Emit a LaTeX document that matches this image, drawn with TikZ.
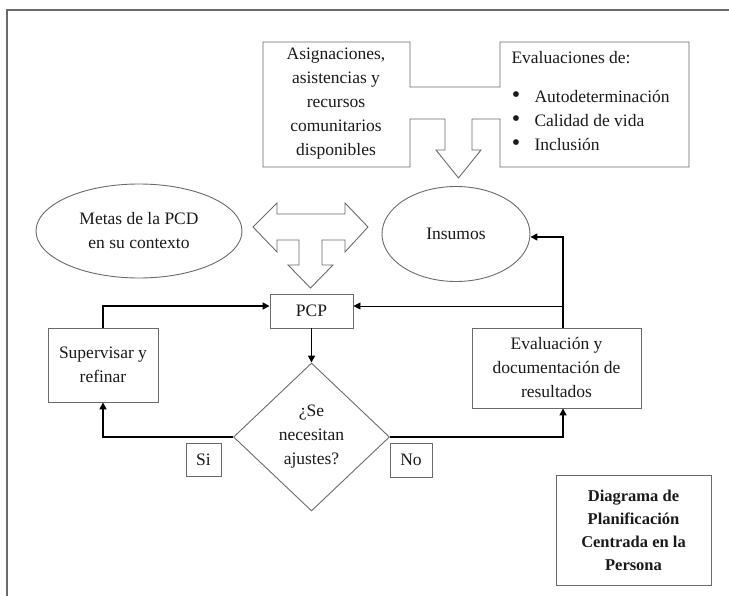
\documentclass[tikz,border=0pt]{standalone}
\usepackage{fontspec}
\setmainfont{Liberation Serif}
\usetikzlibrary{shapes.geometric,arrows.meta,calc}
\definecolor{edge}{HTML}{6A6A6A}
\definecolor{ink}{HTML}{1A1A1A}
\begin{document}
\begin{tikzpicture}[x=1pt,y=-1pt,
  every node/.style={text=ink,font=\fontsize{17.5}{24}\selectfont},
  box/.style={draw=edge,line width=0.9pt,rectangle,align=center,inner sep=0pt},
  oval/.style={draw=edge,line width=0.9pt,ellipse,align=center,inner sep=0pt},
  blockarrow/.style={draw=edge,line width=0.9pt,line join=miter},
  conn/.style={draw=black,line width=1.6pt,-{Triangle[length=7pt,width=7pt]}},
  thinconn/.style={draw=black,line width=0.8pt,-{Triangle[length=7pt,width=7pt]}},
  tag/.style={draw=edge,line width=0.9pt,rectangle,inner sep=0pt},
  bul/.style={font=\fontsize{24}{24}\selectfont}]
\useasboundingbox (0,0) rectangle (729,596);
% outer frame
\draw[edge,line width=1.2pt] (7,596) -- (7,10) -- (729,10);
% combined top boxes with notch and down arrow
\draw[blockarrow] (263,42) -- (410,42) -- (410,87) -- (500,87) -- (500,42) -- (689,42)
  -- (689,167) -- (500,167) -- (500,119) -- (472,119) -- (472,150) -- (481,150)
  -- (458.5,178) -- (436,150) -- (445,150) -- (445,119) -- (410,119) -- (410,167)
  -- (263,167) -- cycle;
\node (asig) at (336,104) [align=center] {Asignaciones,\\asistencias y\\recursos\\comunitarios\\disponibles};
\node (evh) at (508,58) [anchor=west] {Evaluaciones de:};
\node[bul] (b1) at (516,97) {•};
\node[bul] (b2) at (516,121) {•};
\node[bul] (b3) at (516,145) {•};
\node (e1) at (531,97) [anchor=west] {Autodeterminación};
\node (e2) at (531,121) [anchor=west] {Calidad de vida};
\node (e3) at (531,145) [anchor=west] {Inclusión};
% T-shaped block arrow
\draw[blockarrow] (253,227) -- (277,203) -- (277,214) -- (345,214) -- (345,203) -- (368,227)
  -- (345,252) -- (345,240) -- (322,240) -- (322,265) -- (333,265) -- (310.5,288)
  -- (288,265) -- (299,265) -- (299,240) -- (277,240) -- (277,252) -- cycle;
% ellipses
\node[oval,minimum width=206pt,minimum height=94pt] (metas) at (139,231) {Metas de la PCD\\en su contexto};
\node[oval,minimum width=148pt,minimum height=95pt] (ins) at (456,234) {Insumos};
% main nodes
\node[box,minimum width=83pt,minimum height=34pt] (pcp) at (311.5,311) {PCP};
\node[box,minimum width=110pt,minimum height=74pt] (sup) at (103,365) {Supervisar y\\refinar};
\node[draw=edge,line width=0.9pt,diamond,minimum width=156pt,minimum height=148pt,inner sep=0pt,align=center] (dia) at (311.5,437) {¿Se\\necesitan\\ajustes?};
\node[box,minimum width=169pt,minimum height=80pt] (eval) at (556.5,368) {Evaluación y\\documentación de\\resultados};
\node[tag,minimum width=35pt,minimum height=33pt] (si) at (203.5,459.5) {Si};
\node[tag,minimum width=42pt,minimum height=34pt] (no) at (411,460) {No};
\node[box,minimum width=155pt,minimum height=110pt,font=\bfseries\fontsize{16.5}{23}\selectfont] (title) at (633.5,530) {Diagrama de\\Planificación\\Centrada en la\\Persona};
% connectors
\coordinate (evtop) at ($(eval.north)+(6.5,0)$);
\coordinate (evbot) at ($(eval.south)+(6.5,0)$);
\coordinate (junc) at (evtop |- 0,306);
\draw[conn] (sup.north) |- ($(pcp.west)+(0,-5)$);
\draw[conn] (pcp.south) -- (dia.north);
\draw[conn] (dia.west) -| (sup.south);
\draw[conn] (dia.east) -| (evbot);
\draw[conn] (evtop) |- ($(ins.east)+(0,3)$);
\draw[thinconn] (junc) -- ($(pcp.east)+(0,-5)$);
\end{tikzpicture}
\end{document}
